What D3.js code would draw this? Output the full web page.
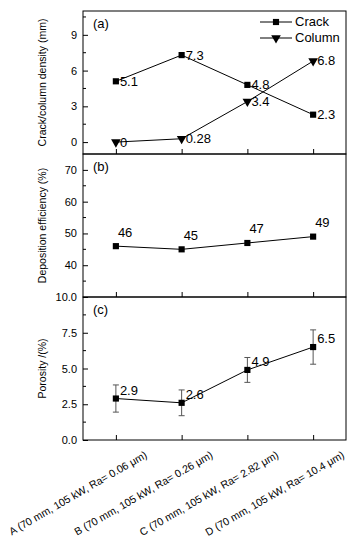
<!DOCTYPE html>
<html><head><meta charset="utf-8">
<script src="https://cdn.jsdelivr.net/npm/d3@7"></script>
<style>body{margin:0;background:#fff}svg{display:block;font-family:"Liberation Sans",Arial,sans-serif}</style>
</head><body><svg id="c" width="353" height="550"></svg>
<script>
const categories = ["A (70 mm, 105 kW, Ra= 0.06 μm)","B  (70 mm, 105 kW, Ra= 0.26 μm)","C (70 mm, 105 kW, Ra= 2.82 μm)","D (70 mm, 105 kW, Ra= 10.4 μm)"];
const crack = [5.1, 7.3, 4.8, 2.3];
const crackLabels = ["5.1","7.3","4.8","2.3"];
const column = [0, 0.28, 3.4, 6.8];
const columnLabels = ["0","0.28","3.4","6.8"];
const deposition = [46, 45, 47, 49];
const depositionLabels = ["46","45","47","49"];
const porosity = [2.9, 2.6, 4.9, 6.5];
const porosityErr = [0.95, 0.9, 0.87, 1.2];
const porosityLabels = ["2.9","2.6","4.9","6.5"];
const ticksA = [0,3,6,9], minorA = [-1.5,1.5,4.5,7.5,10.5];
const ticksB = [40,50,60,70], minorB = [35,45,55,65];
const ticksC = [0,2.5,5,7.5,10], minorC = [1.25,3.75,6.25,8.75];

const svg = d3.select("#c");
const L = 83, R = 346;
const x = d3.scaleLinear().domain([0.5, 4.5]).range([L, R]);
const idx = [1,2,3,4];

function panel(top, bot, domain, ticks, minor, fmt, title, tag){
  const y = d3.scaleLinear().domain(domain).range([bot, top]);
  const g = svg.append("g");
  g.append("rect").attr("x",L).attr("y",top).attr("width",R-L).attr("height",bot-top)
    .attr("fill","none").attr("stroke","#000").attr("stroke-width",1);
  const ya = g.append("g").attr("transform",`translate(${L},0)`)
    .call(d3.axisLeft(y).tickValues(ticks).tickFormat(fmt).tickSizeInner(-5).tickSizeOuter(0).tickPadding(6));
  ya.select(".domain").remove();
  ya.selectAll("text").attr("font-size",11).attr("font-family","Liberation Sans, Arial, sans-serif");
  g.append("g").selectAll("line").data(minor.filter(v=>v>domain[0]&&v<domain[1])).join("line")
    .attr("x1",L).attr("x2",L+3).attr("y1",d=>y(d)).attr("y2",d=>y(d)).attr("stroke","#000");
  const xa = g.append("g").attr("transform",`translate(0,${bot})`)
    .call(d3.axisBottom(x).tickValues(idx).tickFormat("").tickSizeInner(-5).tickSizeOuter(0));
  xa.select(".domain").remove();
  g.append("text").attr("transform",`translate(${43},${(top+bot)/2}) rotate(-90)`)
    .attr("text-anchor","middle").attr("dominant-baseline","middle").attr("font-size",10.5).text(title);
  g.append("text").attr("x",L+10).attr("y",top+17).attr("font-size",13).text(tag);
  return y;
}

const yA = panel(11, 154, [-1, 11], ticksA, minorA, d3.format("d"), "Crack/column density (mm)", "(a)");
const yB = panel(154, 297, [30, 75], ticksB, minorB, d3.format("d"), "Deposition efficiency (%)", "(b)");
const yC = panel(297, 440, [0, 10], ticksC, minorC, d3.format(".1f"), "Porosity /(%)", "(c)");

const line = (y)=>d3.line().x((d,i)=>x(i+1)).y(d=>y(d));
const sq = d3.symbol().type(d3.symbolSquare).size(38);
const tri = d3.symbol().type(d3.symbolTriangle).size(40);

function series(data, y, sym, rot){
  svg.append("path").datum(data).attr("d",line(y)).attr("fill","none").attr("stroke","#000").attr("stroke-width",1);
  svg.append("g").selectAll("path").data(data).join("path")
    .attr("d",sym).attr("transform",(d,i)=>`translate(${x(i+1)},${y(d)}) rotate(${rot})`).attr("fill","#000");
}
// error bars
const eg = svg.append("g").attr("stroke","#555").attr("stroke-width",1);
porosity.forEach((v,i)=>{
  const cx = x(i+1), t = yC(v+porosityErr[i]), b = yC(v-porosityErr[i]);
  eg.append("line").attr("x1",cx).attr("x2",cx).attr("y1",t).attr("y2",b);
  eg.append("line").attr("x1",cx-3).attr("x2",cx+3).attr("y1",t).attr("y2",t);
  eg.append("line").attr("x1",cx-3).attr("x2",cx+3).attr("y1",b).attr("y2",b);
});
series(crack, yA, sq, 0);
series(column, yA, tri, 180);
series(deposition, yB, sq, 0);
series(porosity, yC, sq, 0);

function labels(data, txt, y, dx, dy){
  svg.append("g").selectAll("text").data(data).join("text")
    .attr("x",(d,i)=>x(i+1)+dx).attr("y",d=>y(d)+dy).attr("font-size",13)
    .attr("dominant-baseline","middle").text((d,i)=>txt[i]);
}
labels(crack, crackLabels, yA, 4, 1);
labels(column, columnLabels, yA, 4, 1);
labels(deposition, depositionLabels, yB, 2, -13);
labels(porosity, porosityLabels, yC, 4, -7);

// legend
const leg = [{n:"Crack",s:sq,r:0,y:22},{n:"Column",s:tri,r:180,y:38}];
leg.forEach(d=>{
  svg.append("line").attr("x1",260).attr("x2",292).attr("y1",d.y).attr("y2",d.y).attr("stroke","#000");
  svg.append("path").attr("d",d.s).attr("transform",`translate(276,${d.y}) rotate(${d.r})`);
  svg.append("text").attr("x",295).attr("y",d.y+1).attr("dominant-baseline","middle").attr("font-size",13).text(d.n);
});

// category labels
svg.append("g").selectAll("text").data(categories).join("text")
  .attr("transform",(d,i)=>`translate(${x(i+1)+32},${457}) rotate(-30)`)
  .attr("text-anchor","end").attr("font-size",10.6).text(d=>d);
</script></body></html>
